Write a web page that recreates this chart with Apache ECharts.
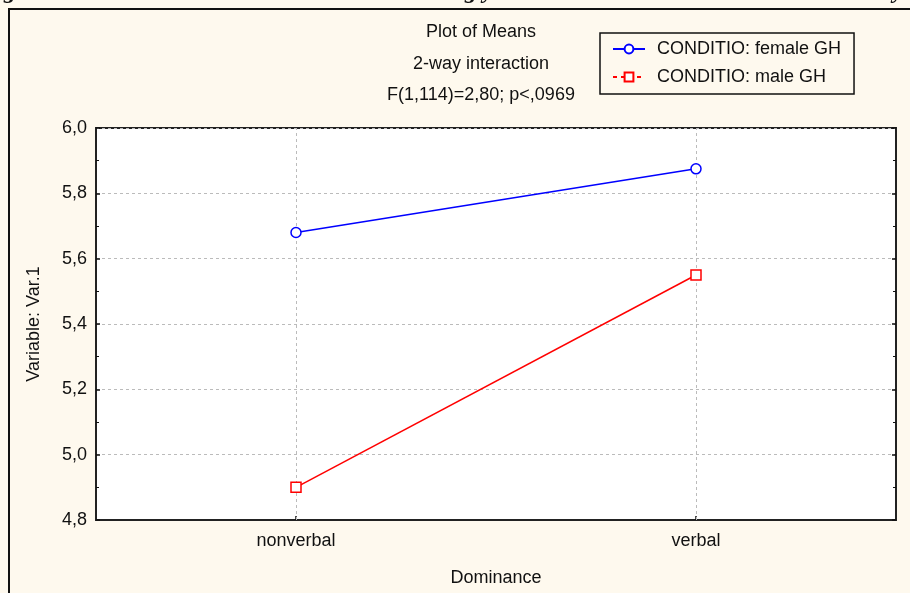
<!DOCTYPE html>
<html>
<head>
<meta charset="utf-8">
<script src="https://cdn.jsdelivr.net/npm/echarts@6/dist/echarts.min.js"></script>
<style>
  html, body { margin: 0; padding: 0; background: #ffffff; }
  #chart { width: 910px; height: 593px; }
</style>
</head>
<body>
<div id="chart"></div>
<script>
// Cell means by dominance type and condition
const dominance = ['nonverbal', 'verbal'];
const femaleGH = [5.68, 5.875];
const maleGH = [4.90, 5.55];
const seriesNames = ['CONDITIO: female GH', 'CONDITIO: male GH'];
const titleLines = ['Plot of Means', '2-way interaction', 'F(1,114)=2,80; p<,0969'];
const yMin = 4.8, yMax = 6.0, yStep = 0.2;

const FONT = 'Liberation Sans, Arial, sans-serif';
const TXT = '#111';
const GRIDLINE = { color: '#bbb', type: [3, 3], width: 1 };
const comma = v => v.toFixed(1).replace('.', ',');

const chart = echarts.init(document.getElementById('chart'));

const graphics = [
  // panel frame
  { type: 'rect', z: -10, shape: { x: 9, y: 9, width: 1000, height: 700 },
    style: { fill: '#fef9ee', stroke: '#111', lineWidth: 2 } },
  // caption text running above the panel
  { type: 'text', x: 4, y: 4, style: { text: 'g', font: 'italic bold 24px Liberation Serif', fill: '#111', textVerticalAlign: 'bottom' } },
  { type: 'text', x: 465, y: 4, style: { text: 'g y', font: 'italic bold 24px Liberation Serif', fill: '#111', textVerticalAlign: 'bottom' } },
  { type: 'text', x: 893, y: 4, style: { text: 'y', font: 'italic bold 24px Liberation Serif', fill: '#111', textVerticalAlign: 'bottom' } }
];
titleLines.forEach((t, i) => {
  graphics.push({ type: 'text', x: 481, y: 32.5 + i * 31.5,
    style: { text: t, textAlign: 'center', textVerticalAlign: 'middle', font: '18px ' + FONT, fill: TXT } });
});

const yAxisCommon = {
  type: 'value', min: yMin, max: yMax, interval: yStep,
  axisLine: { show: true, lineStyle: { color: '#222', width: 2 } },
  axisTick: { show: true, inside: true, length: 4, lineStyle: { color: '#111', width: 1.5 } },
  minorTick: { show: true, splitNumber: 2, length: 3, lineStyle: { color: '#111', width: 1 } }
};

chart.setOption({
  backgroundColor: '#fef9ee',
  animation: false,
  graphic: graphics,
  legend: {
    orient: 'vertical',
    left: 600, top: 33,
    padding: [7, 13, 8, 12],
    itemGap: 10,
    itemWidth: 32, itemHeight: 11,
    backgroundColor: '#fef9ee',
    borderColor: '#111', borderWidth: 1.5,
    textStyle: { fontFamily: FONT, fontSize: 18, color: TXT, padding: [0, 0, 0, 7] },
    data: [
      { name: seriesNames[0] },
      { name: seriesNames[1], lineStyle: { type: [4, 4] } }
    ]
  },
  grid: {
    left: 96, right: 14, top: 128, bottom: 73,
    show: true, backgroundColor: '#ffffff', borderColor: '#222', borderWidth: 2
  },
  xAxis: {
    type: 'category', data: dominance,
    name: 'Dominance', nameLocation: 'middle', nameGap: 49,
    nameTextStyle: { fontFamily: FONT, fontSize: 18, color: TXT },
    axisLine: { lineStyle: { color: '#222', width: 2 } },
    axisTick: { show: true, inside: true, alignWithLabel: true, length: 4, lineStyle: { color: '#111', width: 1.5 } },
    axisLabel: { fontFamily: FONT, fontSize: 18, color: TXT, margin: 12 },
    splitLine: { show: false }
  },
  yAxis: [
    Object.assign({}, yAxisCommon, {
      position: 'left',
      name: 'Variable: Var.1', nameLocation: 'middle', nameGap: 53,
      nameTextStyle: { fontFamily: FONT, fontSize: 18, color: TXT },
      axisLabel: { fontFamily: FONT, fontSize: 18, color: TXT, margin: 9, formatter: comma },
      splitLine: { show: true, lineStyle: GRIDLINE }
    }),
    Object.assign({}, yAxisCommon, {
      position: 'right',
      axisLabel: { show: false },
      splitLine: { show: false }
    })
  ],
  series: [
    {
      // vertical dashed guides through each category
      type: 'line', data: [], z: 1, silent: true,
      markLine: {
        z: 1, silent: true, symbol: 'none', label: { show: false },
        lineStyle: GRIDLINE,
        data: dominance.map(d => ({ xAxis: d }))
      }
    },
    {
      name: seriesNames[0], type: 'line', data: femaleGH, yAxisIndex: 0, z: 3,
      symbol: 'circle', symbolSize: 10,
      lineStyle: { color: '#0000ff', width: 1.5 },
      itemStyle: { color: '#ffffff', borderColor: '#0000ff', borderWidth: 1.5 }
    },
    {
      name: seriesNames[1], type: 'line', data: maleGH, yAxisIndex: 0, z: 3,
      symbol: 'rect', symbolSize: 10,
      lineStyle: { color: '#ff0000', width: 1.5 },
      itemStyle: { color: '#ffffff', borderColor: '#ff0000', borderWidth: 1.5 }
    }
  ]
});
</script>
</body>
</html>
